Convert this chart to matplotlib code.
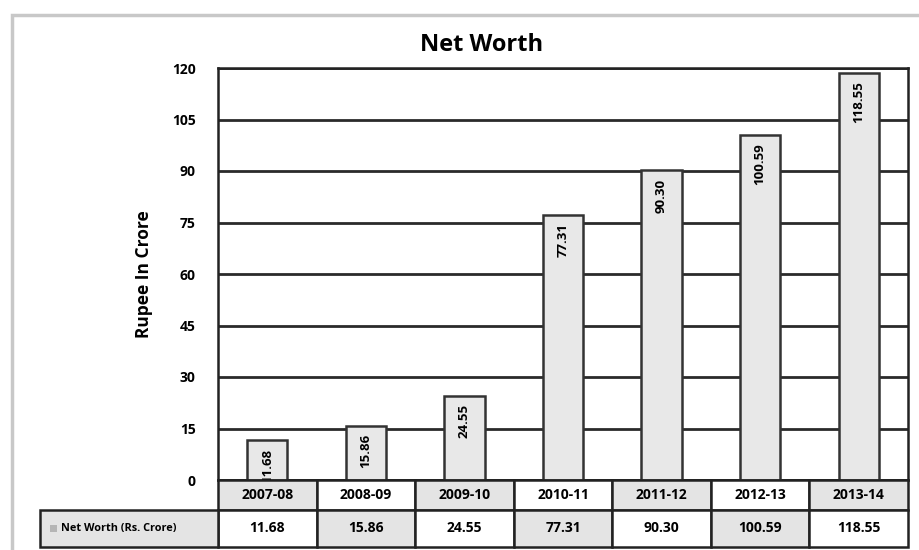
import matplotlib.pyplot as plt
from matplotlib.patches import Rectangle
import numpy as np

years = ["2007-08", "2008-09", "2009-10", "2010-11", "2011-12", "2012-13", "2013-14"]
net_worth = [11.68, 15.86, 24.55, 77.31, 90.30, 100.59, 118.55]
yticks = [0, 15, 30, 45, 60, 75, 90, 105, 120]
series_name = "Net Worth (Rs. Crore)"

plt.rcParams['font.family'] = ['Open Sans', 'DejaVu Sans']
plt.rcParams['font.weight'] = 'bold'

fig = plt.figure(figsize=(9.2, 5.5), dpi=100)
W, H = 920, 550

# outer chart frame (runs off the bottom and right edges)
fig.patches.append(Rectangle((12 / W, -0.1), 1.2, 1.1 - 15 / H, transform=fig.transFigure,
                             fill=False, edgecolor='#c8c8c8', linewidth=2.5))

ax = fig.add_axes([218 / W, (550 - 480) / H, 690 / W, 412 / H])
x = np.arange(len(years)) + 0.5
ax.bar(x, net_worth, width=0.41, color='#e8e8e8', edgecolor='#333333', linewidth=1.8, zorder=3)
ax.set_xlim(0, len(years))
ax.set_ylim(0, 120)
ax.set_yticks(yticks)
ax.set_yticklabels([str(t) for t in yticks], fontsize=10, fontweight='bold')
ax.tick_params(axis='y', length=0, pad=16)
ax.set_xticks([])
ax.yaxis.grid(True, color='#2a2a2a', linewidth=2)
ax.set_axisbelow(True)
for s in ax.spines.values():
    s.set_color('#222222')
    s.set_linewidth(1.8)
ax.set_ylabel("Rupee In Crore", fontsize=12.5, fontweight='bold', labelpad=14)
fig.text(482 / W, 1 - 45 / H, "Net Worth", ha='center', va='center', fontsize=17, fontweight='bold')

for xi, v in zip(x, net_worth):
    ax.text(xi, v - 2.5, f"{v:.2f}", rotation=90, ha='center', va='top',
            fontsize=9.5, fontweight='bold', zorder=4, clip_on=True)

# data table under the plot
tab = fig.add_axes([40 / W, 3 / H, 868 / W, 67 / H])
ncol = len(years)
lab_w = 178 / 98.57
tab.set_xlim(-lab_w, ncol)
tab.set_ylim(0, 67)
tab.axis('off')
for i, (yr, v) in enumerate(zip(years, net_worth)):
    hcol = '#e4e4e4' if i % 2 == 0 else 'white'
    dcol = 'white' if i % 2 == 0 else '#e4e4e4'
    tab.add_patch(Rectangle((i, 37), 1, 30, facecolor=hcol, edgecolor='#222222', linewidth=1.8, clip_on=False))
    tab.add_patch(Rectangle((i, 0), 1, 37, facecolor=dcol, edgecolor='#222222', linewidth=1.8, clip_on=False))
    tab.text(i + 0.5, 52, yr, ha='center', va='center', fontsize=10, fontweight='bold')
    tab.text(i + 0.5, 18.5, f"{v:.2f}", ha='center', va='center', fontsize=10, fontweight='bold')
tab.add_patch(Rectangle((-lab_w, 0), lab_w, 37, facecolor='#e4e4e4', edgecolor='#222222', linewidth=1.8, clip_on=False))
tab.add_patch(Rectangle((-lab_w + 0.1, 15), 0.07, 7, facecolor='#b5b5b5', edgecolor='none'))
tab.text(-lab_w + 0.21, 18.5, series_name, ha='left', va='center', fontsize=7.8, fontweight='bold')

fig.savefig("out.png", dpi=100)
